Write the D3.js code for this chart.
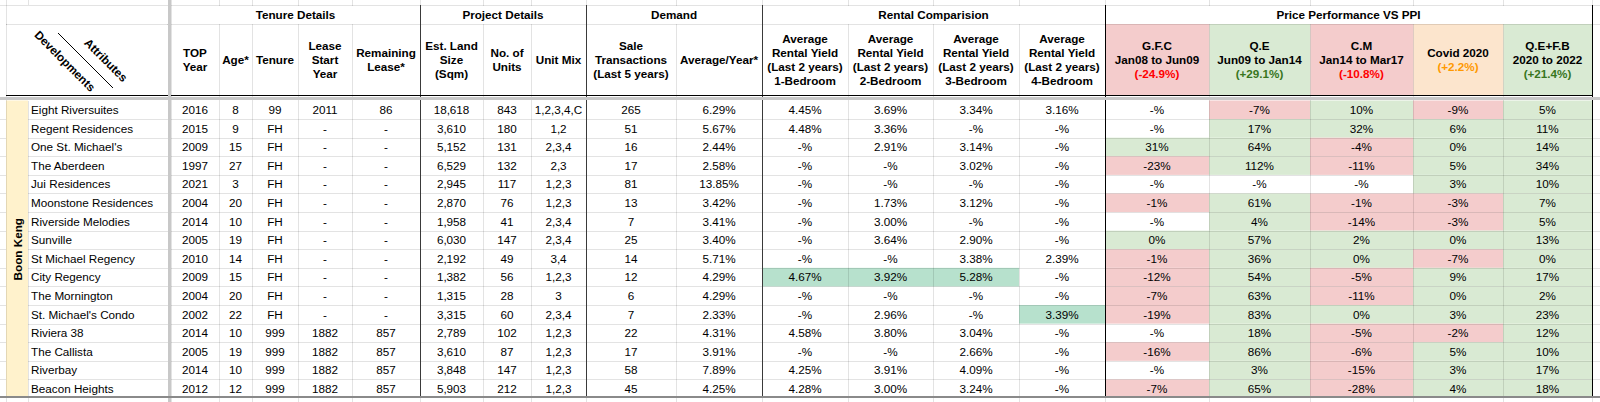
<!DOCTYPE html>
<html>
<head>
<meta charset="utf-8">
<script src="https://cdn.jsdelivr.net/npm/d3@7"></script>
<style>
    body { margin: 0; background: #fff; }
    svg { display: block; font-family: "Liberation Sans", Arial, sans-serif; }
</style>
</head>
<body>
<script>
// ---- data ----
const area = "Boon Keng";
const developments = ["Eight Riversuites", "Regent Residences", "One St. Michael's", "The Aberdeen", "Jui Residences",
    "Moonstone Residences", "Riverside Melodies", "Sunville", "St Michael Regency", "City Regency", "The Mornington",
    "St. Michael's Condo", "Riviera 38", "The Callista", "Riverbay", "Beacon Heights"];
const topYear = [2016, 2015, 2009, 1997, 2021, 2004, 2014, 2005, 2010, 2009, 2004, 2002, 2014, 2005, 2014, 2012];
const age = [8, 9, 15, 27, 3, 20, 10, 19, 14, 15, 20, 22, 10, 19, 10, 12];
const tenure = ["99", "FH", "FH", "FH", "FH", "FH", "FH", "FH", "FH", "FH", "FH", "FH", "999", "999", "999", "999"];
const leaseStart = [2011, null, null, null, null, null, null, null, null, null, null, null, 1882, 1882, 1882, 1882];
const remainingLease = [86, null, null, null, null, null, null, null, null, null, null, null, 857, 857, 857, 857];
const landSize = [18618, 3610, 5152, 6529, 2945, 2870, 1958, 6030, 2192, 1382, 1315, 3315, 2789, 3610, 3848, 5903];
const units = [843, 180, 131, 132, 117, 76, 41, 147, 49, 56, 28, 60, 102, 87, 147, 212];
const unitMix = ["1,2,3,4,C", "1,2", "2,3,4", "2,3", "1,2,3", "1,2,3", "2,3,4", "2,3,4", "3,4", "1,2,3", "3", "2,3,4",
    "1,2,3", "1,2,3", "1,2,3", "1,2,3"];
const saleTx = [265, 51, 16, 17, 81, 13, 7, 25, 14, 12, 6, 7, 22, 17, 58, 45];
const avgPerYear = [6.29, 5.67, 2.44, 2.58, 13.85, 3.42, 3.41, 3.40, 5.71, 4.29, 4.29, 2.33, 4.31, 3.91, 7.89, 4.25];
const yield1 = [4.45, 4.48, null, null, null, null, null, null, null, 4.67, null, null, 4.58, null, 4.25, 4.28];
const yield2 = [3.69, 3.36, 2.91, null, null, 1.73, 3.00, 3.64, null, 3.92, null, 2.96, 3.80, null, 3.91, 3.00];
const yield3 = [3.34, null, 3.14, 3.02, null, 3.12, null, 2.90, 3.38, 5.28, null, null, 3.04, 2.66, 4.09, 3.24];
const yield4 = [3.16, null, null, null, null, null, null, null, 2.39, null, null, 3.39, null, null, null, null];
const gfc = [null, null, 31, -23, null, -1, null, 0, -1, -12, -7, -19, null, -16, null, -7];
const qe = [-7, 17, 64, 112, null, 61, 4, 57, 36, 54, 63, 83, 18, 86, 3, 65];
const cm = [10, 32, -4, -11, null, -1, -14, 2, 0, -5, -11, 0, -5, -6, -15, -28];
const covid = [-9, 6, 0, 5, 3, -3, -3, 0, -7, 9, 0, 3, -2, 5, 3, 4];
const qefb = [5, 11, 14, 34, 10, 7, 5, 13, 0, 17, 2, 23, 12, 10, 17, 18];
// best rental yields highlighted in the sheet
const highlights = [["City Regency", "y1"], ["City Regency", "y2"], ["City Regency", "y3"], ["St. Michael's Condo", "y4"]];

const groups = ["Tenure Details", "Project Details", "Demand", "Rental Comparision", "Price Performance VS PPI"];
const periods = [
    {key: "gfc", lines: ["G.F.C", "Jan08 to Jun09"], ppi: "(-24.9%)"},
    {key: "qe", lines: ["Q.E", "Jun09 to Jan14"], ppi: "(+29.1%)"},
    {key: "cm", lines: ["C.M", "Jan14 to Mar17"], ppi: "(-10.8%)"},
    {key: "covid", lines: ["Covid 2020"], ppi: "(+2.2%)"},
    {key: "qefb", lines: ["Q.E+F.B", "2020 to 2022"], ppi: "(+21.4%)"}
];

// ---- layout ----
const width = 1600, height = 402;
const gridTop = 5, headTop = 24, headBottom = 96, bodyTop = 100.5, bodyBottom = 398;
const colour = {grid: "#e2e2e2", freeze: "#c8c8c8", red: "#f4cccc", green: "#d9ead3", orange: "#fce5cd",
    yellow: "#fff2cc", best: "#b7e1cd"};

const fPct = v => v == null ? "-%" : d3.format(".2f")(v) + "%";
const fPerf = v => v == null ? "-%" : v + "%";
const fDash = v => v == null ? "-" : v;

const columns = [
    {key: "top", x0: 171, x1: 219, head: ["TOP", "Year"], values: topYear},
    {key: "age", x0: 219, x1: 252, head: ["Age*"], values: age},
    {key: "tenure", x0: 252, x1: 298, head: ["Tenure"], values: tenure},
    {key: "lease", x0: 298, x1: 352, head: ["Lease", "Start", "Year"], values: leaseStart, fmt: fDash},
    {key: "remain", x0: 352, x1: 420, head: ["Remaining", "Lease*"], values: remainingLease, fmt: fDash},
    {key: "land", x0: 420, x1: 483, head: ["Est. Land", "Size", "(Sqm)"], values: landSize, fmt: d3.format(",")},
    {key: "units", x0: 483, x1: 531, head: ["No. of", "Units"], values: units},
    {key: "mix", x0: 531, x1: 586, head: ["Unit Mix"], values: unitMix},
    {key: "sales", x0: 586, x1: 676, head: ["Sale", "Transactions", "(Last 5 years)"], values: saleTx},
    {key: "avg", x0: 676, x1: 762, head: ["Average/Year*"], values: avgPerYear, fmt: fPct},
    {key: "y1", x0: 762, x1: 848, head: ["Average", "Rental Yield", "(Last 2 years)", "1-Bedroom"], values: yield1, fmt: fPct},
    {key: "y2", x0: 848, x1: 933, head: ["Average", "Rental Yield", "(Last 2 years)", "2-Bedroom"], values: yield2, fmt: fPct},
    {key: "y3", x0: 933, x1: 1019, head: ["Average", "Rental Yield", "(Last 2 years)", "3-Bedroom"], values: yield3, fmt: fPct},
    {key: "y4", x0: 1019, x1: 1105, head: ["Average", "Rental Yield", "(Last 2 years)", "4-Bedroom"], values: yield4, fmt: fPct},
    {key: "gfc", x0: 1105, x1: 1209, values: gfc, fmt: fPerf, perf: true},
    {key: "qe", x0: 1209, x1: 1310, values: qe, fmt: fPerf, perf: true},
    {key: "cm", x0: 1310, x1: 1413, values: cm, fmt: fPerf, perf: true},
    {key: "covid", x0: 1413, x1: 1503, values: covid, fmt: fPerf, perf: true},
    {key: "qefb", x0: 1503, x1: 1592, values: qefb, fmt: fPerf, perf: true}
];
const groupSpan = [["top", "remain"], ["land", "mix"], ["sales", "avg"], ["y1", "y4"], ["gfc", "qefb"]];
const headFill = {gfc: colour.red, qe: colour.green, cm: colour.red, covid: colour.orange, qefb: colour.green};
const ppiColour = {gfc: "#ff0000", qe: "#38761d", cm: "#ff0000", covid: "#ff9900", qefb: "#38761d"};

// scales: rows by development, columns by key
const y = d3.scaleBand().domain(developments).range([bodyTop, bodyBottom]);
const x0 = d3.scaleOrdinal(columns.map(c => c.key), columns.map(c => c.x0));
const x1 = d3.scaleOrdinal(columns.map(c => c.key), columns.map(c => c.x1));
const xc = k => (x0(k) + x1(k)) / 2;

const svg = d3.select("body").append("svg")
    .attr("width", width)
    .attr("height", height)
    .attr("viewBox", [0, 0, width, height]);

svg.append("rect").attr("width", width).attr("height", height).attr("fill", "#fff");

// ---- fills ----
const fills = svg.append("g");
fills.selectAll(".hf").data(periods).join("rect")
    .attr("x", d => x0(d.key) + 0.5).attr("y", headTop)
    .attr("width", d => x1(d.key) - x0(d.key)).attr("height", headBottom - headTop - 1)
    .attr("fill", d => headFill[d.key]);

const perfCells = columns.filter(c => c.perf)
    .flatMap(c => c.values.map((v, i) => ({key: c.key, name: developments[i], v})));
fills.selectAll(".pf").data(perfCells.filter(d => d.v != null)).join("rect")
    .attr("x", d => x0(d.key)).attr("y", d => y(d.name))
    .attr("width", d => x1(d.key) - x0(d.key)).attr("height", y.bandwidth())
    .attr("fill", d => d.v < 0 ? colour.red : colour.green);

fills.selectAll(".hl").data(highlights).join("rect")
    .attr("x", d => x0(d[1])).attr("y", d => y(d[0]))
    .attr("width", d => x1(d[1]) - x0(d[1])).attr("height", y.bandwidth())
    .attr("fill", colour.best);

fills.append("rect")
    .attr("x", 6).attr("y", bodyTop).attr("width", 22).attr("height", bodyBottom - bodyTop)
    .attr("fill", colour.yellow);

// ---- grid lines ----
const grid = svg.append("g").attr("stroke", "#000").attr("stroke-opacity", 0.11).attr("shape-rendering", "crispEdges");
const rowEdges = developments.slice(1).map(d => y(d)).concat([gridTop, headTop]);
grid.selectAll(".rl").data(rowEdges).join("line")
    .attr("x1", d => d > bodyTop ? 28 : 6).attr("x2", width)
    .attr("y1", d => Math.round(d) + 0.5).attr("y2", d => Math.round(d) + 0.5);
grid.selectAll(".rl2").data(developments.slice(1).map(d => y(d)).concat([gridTop])).join("line")
    .attr("x1", 0).attr("x2", 6)
    .attr("y1", d => Math.round(d) + 0.5).attr("y2", d => Math.round(d) + 0.5);

const edges = columns.map(c => c.x1).concat([6, 28, 171]);
grid.selectAll(".cl").data(edges).join("line")
    .attr("x1", d => d + 0.5).attr("x2", d => d + 0.5)
    .attr("y1", 0).attr("y2", height)
    .attr("stroke-dasharray", d => d === 28 ? `${gridTop},${bodyTop - gridTop},${height}` : null);

// hide grid in group header row between columns of a group
svg.append("g").selectAll("rect").data(groupSpan).join("rect")
    .attr("x", d => x0(d[0]) + 1).attr("y", gridTop + 1)
    .attr("width", d => x1(d[1]) - x0(d[0]) - 1).attr("height", headTop - gridTop - 1)
    .attr("fill", "#fff");
svg.append("rect").attr("x", 7).attr("y", gridTop + 1).attr("width", 160).attr("height", headBottom - gridTop - 2)
    .attr("fill", "#fff");
svg.append("line").attr("x1", 6).attr("x2", 168).attr("y1", headTop + 0.5).attr("y2", headTop + 0.5)
    .attr("stroke", "#000").attr("stroke-opacity", 0.11);

// ---- strong borders ----
const borders = svg.append("g").attr("shape-rendering", "crispEdges");
borders.selectAll(".gb").data([420, 586, 762]).join("line")
    .attr("x1", d => d + 0.5).attr("x2", d => d + 0.5).attr("y1", gridTop).attr("y2", bodyBottom)
    .attr("stroke", "#3a3a3a");
borders.selectAll(".pb").data([1105, 1592]).join("line")
    .attr("x1", d => d + 0.5).attr("x2", d => d + 0.5).attr("y1", gridTop).attr("y2", bodyBottom)
    .attr("stroke", "#000");
borders.append("line").attr("x1", 6).attr("x2", 1592).attr("y1", 95.5).attr("y2", 95.5)
    .attr("stroke", "#000").attr("stroke-width", 1.5);
// frozen row / column dividers
borders.append("rect").attr("x", 0).attr("y", 97).attr("width", width).attr("height", 3).attr("fill", colour.freeze);
borders.append("rect").attr("x", 168).attr("y", 0).attr("width", 3).attr("height", height).attr("fill", colour.freeze);
borders.append("rect").attr("x", 0).attr("y", 396).attr("width", width).attr("height", 2).attr("fill", "#8a8a8a");

// ---- header texts ----
const bold = "bold 11.7px 'Liberation Sans', Arial, sans-serif";
const lineH = 14;
const head = svg.append("g").style("font", bold).attr("text-anchor", "middle").attr("fill", "#000");

head.selectAll(".gt").data(groupSpan).join("text")
    .attr("x", d => (x0(d[0]) + x1(d[1])) / 2).attr("y", (gridTop + headTop) / 2).attr("dy", "0.36em")
    .text((d, i) => groups[i]);

function multiLine(sel, lines, cx, colours) {
    const mid = (headTop + headBottom) / 2;
    lines.forEach((l, i) => {
        sel.append("text")
            .attr("x", cx)
            .attr("y", mid + (i - (lines.length - 1) / 2) * lineH)
            .attr("dy", "0.36em")
            .attr("fill", colours ? colours[i] : "#000")
            .text(l);
    });
}
columns.filter(c => c.head).forEach(c => multiLine(head, c.head, xc(c.key)));
periods.forEach(p => multiLine(head, p.lines.concat([p.ppi]), xc(p.key),
    p.lines.map(() => "#000").concat([ppiColour[p.key]])));

// corner cell: developments / attributes
head.append("line").attr("x1", 58).attr("y1", 33).attr("x2", 113).attr("y2", 88)
    .attr("stroke", "#000").attr("stroke-width", 1);
head.append("text").attr("transform", "translate(65,61) rotate(45)").attr("dy", "0.36em").text("Developments");
head.append("text").attr("transform", "translate(106,60) rotate(45)").attr("dy", "0.36em").text("Attributes");

// area label
head.append("text").attr("transform", `translate(17.5,${(bodyTop + bodyBottom) / 2}) rotate(-90)`)
    .attr("dy", "0.36em").text(area);

// ---- body texts ----
const body = svg.append("g").style("font", "11.7px 'Liberation Sans', Arial, sans-serif").attr("fill", "#000");
body.selectAll(".nm").data(developments).join("text")
    .attr("x", 31).attr("y", d => y(d) + y.bandwidth() / 2).attr("dy", "0.36em")
    .text(d => d);

const cells = columns.flatMap(c => c.values.map((v, i) => ({key: c.key, name: developments[i], t: (c.fmt || (d => d))(v)})));
body.selectAll(".cv").data(cells).join("text")
    .attr("text-anchor", "middle")
    .attr("x", d => xc(d.key)).attr("y", d => y(d.name) + y.bandwidth() / 2).attr("dy", "0.36em")
    .text(d => d.t);
</script>
</body>
</html>
